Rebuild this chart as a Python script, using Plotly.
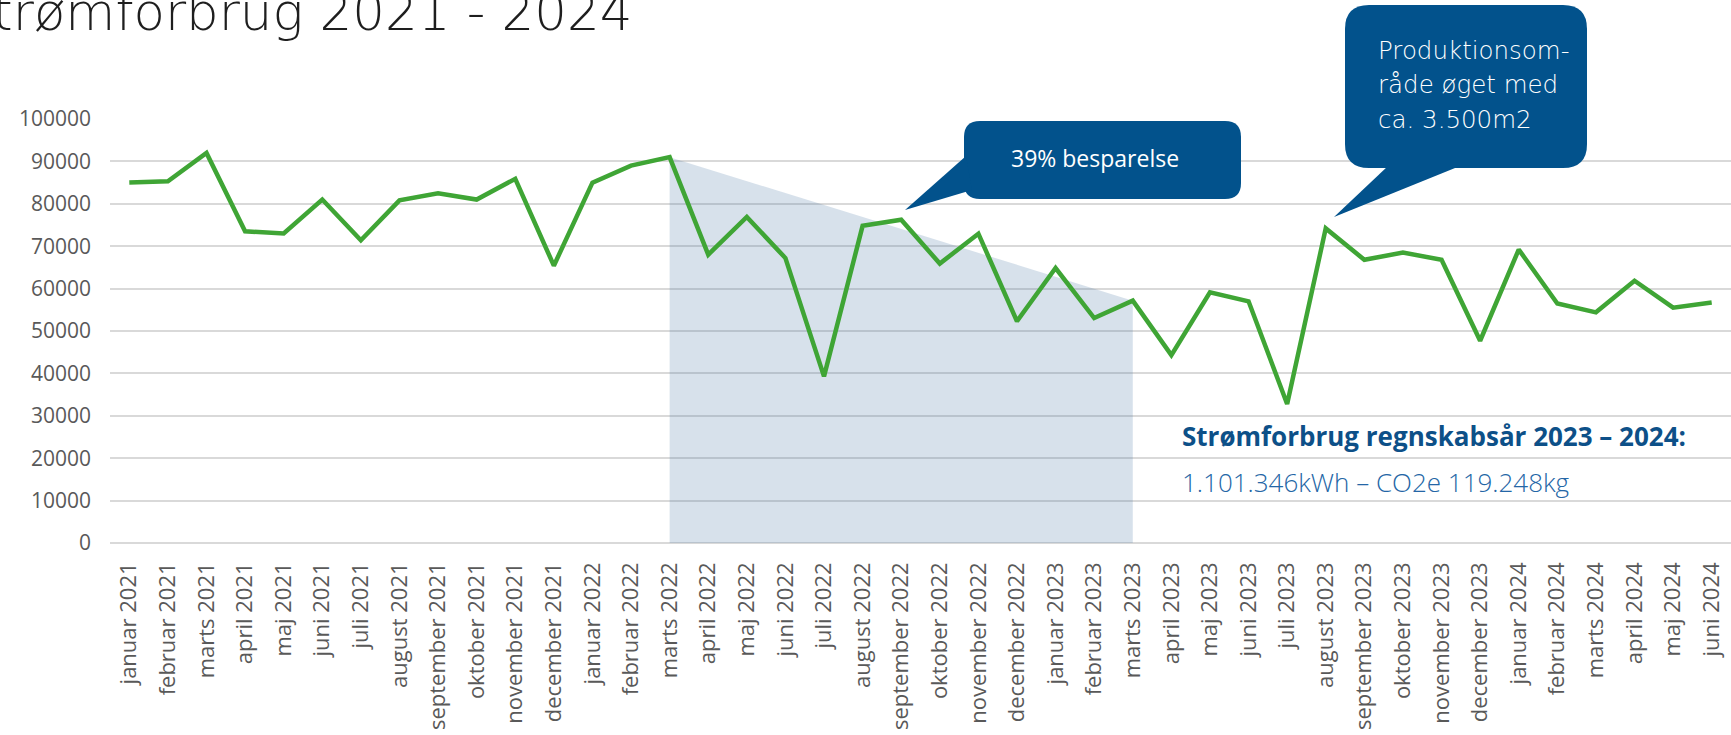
import plotly.graph_objects as go

months = [
    "januar 2021", "februar 2021", "marts 2021", "april 2021", "maj 2021", "juni 2021",
    "juli 2021", "august 2021", "september 2021", "oktober 2021", "november 2021", "december 2021",
    "januar 2022", "februar 2022", "marts 2022", "april 2022", "maj 2022", "juni 2022",
    "juli 2022", "august 2022", "september 2022", "oktober 2022", "november 2022", "december 2022",
    "januar 2023", "februar 2023", "marts 2023", "april 2023", "maj 2023", "juni 2023",
    "juli 2023", "august 2023", "september 2023", "oktober 2023", "november 2023", "december 2023",
    "januar 2024", "februar 2024", "marts 2024", "april 2024", "maj 2024", "juni 2024",
]
kwh = [
    85000, 85300, 92000, 73500, 73000, 81000,
    71400, 80800, 82500, 81000, 85900, 65400,
    85000, 89000, 91000, 68000, 76900, 67200,
    39300, 74800, 76250, 65900, 72950, 52300,
    64850, 53050, 57150, 44300, 59100, 57000,
    32800, 74200, 66800, 68500, 66800, 47700,
    69200, 56500, 54400, 61850, 55500, 56700,
]
y_ticks = [0, 10000, 20000, 30000, 40000, 50000, 60000, 70000, 80000, 90000, 100000]
saving_start = "marts 2022"
saving_end = "marts 2023"

title_text = "Strømforbrug 2021 - 2024"
callout1_text = "39% besparelse"
callout2_lines = ["Produktionsom-", "råde øget med", "ca. 3.500m2"]
summary_title = "Strømforbrug regnskabsår 2023 – 2024:"
summary_value = "1.101.346kWh – CO2e 119.248kg"

W, H = 1731, 735
L, R, T, B = 110, 1731, 119, 543
PW, PH = R - L, B - T


def px(x):
    return (x - L) / PW


def py(y):
    return (B - y) / PH


def rrect_path(x0, y0, x1, y1, r):
    pts = [
        f"M {px(x0 + r)} {py(y0)}",
        f"L {px(x1 - r)} {py(y0)}",
        f"Q {px(x1)} {py(y0)} {px(x1)} {py(y0 + r)}",
        f"L {px(x1)} {py(y1 - r)}",
        f"Q {px(x1)} {py(y1)} {px(x1 - r)} {py(y1)}",
        f"L {px(x0 + r)} {py(y1)}",
        f"Q {px(x0)} {py(y1)} {px(x0)} {py(y1 - r)}",
        f"L {px(x0)} {py(y0 + r)}",
        f"Q {px(x0)} {py(y0)} {px(x0 + r)} {py(y0)}",
        "Z",
    ]
    return " ".join(pts)


def tri_path(p):
    return "M " + " L ".join(f"{px(a)} {py(b)}" for a, b in p) + " Z"


BLUE = "#02528C"

i0 = months.index(saving_start)
i1 = months.index(saving_end)

fig = go.Figure()
fig.add_trace(go.Scatter(
    x=[months[i0], months[i1], months[i1], months[i0]],
    y=[kwh[i0], kwh[i1], 0, 0],
    fill="toself", fillcolor="rgba(68,114,160,0.21)",
    line=dict(width=0), mode="lines", hoverinfo="skip", showlegend=False,
))
fig.add_trace(go.Scatter(
    x=months, y=kwh, mode="lines",
    line=dict(color="#3FA535", width=4.5),
    showlegend=False,
))

shapes = [
    dict(type="path", xref="paper", yref="paper", path=rrect_path(964, 121, 1241, 199, 16),
         fillcolor=BLUE, line=dict(width=0), layer="above"),
    dict(type="path", xref="paper", yref="paper",
         path=tri_path([(966, 156), (905, 210), (972, 190)]),
         fillcolor=BLUE, line=dict(width=0), layer="above"),
    dict(type="path", xref="paper", yref="paper", path=rrect_path(1345, 5, 1587, 168, 24),
         fillcolor=BLUE, line=dict(width=0), layer="above"),
    dict(type="path", xref="paper", yref="paper",
         path=tri_path([(1388, 166), (1334, 217), (1460, 166)]),
         fillcolor=BLUE, line=dict(width=0), layer="above"),
]

annotations = [
    dict(text=title_text, xref="paper", yref="paper", x=px(634), y=py(12),
         xanchor="right", yanchor="middle", showarrow=False,
         font=dict(family="DejaVu Sans", size=51.4, color="#1E1E1E", weight=200)),
    dict(text=callout1_text, xref="paper", yref="paper", x=px(1095), y=py(158),
         xanchor="center", yanchor="middle", showarrow=False,
         font=dict(family="Open Sans", size=23, color="white")),
    dict(text=summary_title, xref="paper", yref="paper", x=px(1180), y=py(436),
         xanchor="left", yanchor="middle", showarrow=False,
         font=dict(family="Open Sans", size=26, color="#0D5088", weight=700)),
    dict(text=summary_value, xref="paper", yref="paper", x=px(1180), y=py(482),
         xanchor="left", yanchor="middle", showarrow=False,
         font=dict(family="Open Sans", size=26, color="#2466A6", weight=300)),
]
for k, line in enumerate(callout2_lines):
    annotations.append(dict(
        text=line, xref="paper", yref="paper", x=px(1376), y=py(51 + 34 * k),
        xanchor="left", yanchor="middle", showarrow=False,
        font=dict(family="DejaVu Sans", size=24.5, color="white", weight=200)))

fig.update_layout(
    width=W, height=H,
    margin=dict(l=L, r=W - R, t=T, b=H - B, pad=0, autoexpand=False),
    paper_bgcolor="white", plot_bgcolor="white",
    shapes=shapes, annotations=annotations,
    xaxis=dict(
        type="category", categoryorder="array", categoryarray=months,
        range=[-0.5, 41.5], tickangle=-90, showgrid=False, zeroline=False,
        showline=False, ticks="", ticklabelstandoff=14, automargin=False,
        tickfont=dict(family="Open Sans", size=22, color="#595959"),
    ),
    yaxis=dict(
        range=[0, 100000], tickvals=y_ticks, ticktext=[str(v) for v in y_ticks],
        showgrid=True, gridcolor="#D9D9D9", gridwidth=1.5,
        zeroline=True, zerolinecolor="#D9D9D9", zerolinewidth=1.5,
        showline=False, ticks="", ticklabelstandoff=18, automargin=False,
        tickfont=dict(family="Open Sans", size=21, color="#595959"),
    ),
)

fig.write_html("out.html", config={"displayModeBar": False},
               post_script="document.body.style.margin='0px';")
